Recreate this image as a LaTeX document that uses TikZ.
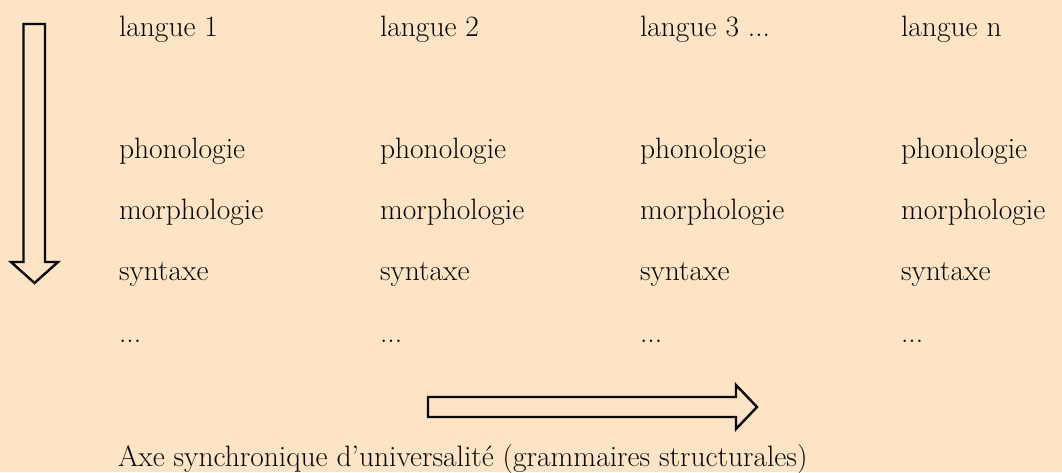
\documentclass[tikz,border=0pt]{standalone}
\definecolor{bg}{RGB}{252,228,196}
\definecolor{ink}{RGB}{8,8,8}
\begin{document}
\begin{tikzpicture}[x=1pt,y=-1pt,
  lbl/.style={anchor=base west,inner sep=0pt,outer sep=0pt,text=ink,font=\fontsize{29.5}{34}\selectfont},
  bigarrow/.style={draw=ink,line width=2.4pt,line join=miter,fill=none}]
\fill[bg] (0,0) rectangle (1062,472);
\useasboundingbox (0,0) rectangle (1062,472);
% down arrow
\draw[bigarrow] (23.5,24) -- (45,24) -- (45,262) -- (58,262) -- (34.5,283) -- (11,262) -- (23.5,262) -- cycle;
% right arrow
\draw[bigarrow] (428,397) -- (736,397) -- (736,385) -- (757,407) -- (736,429) -- (736,417) -- (428,417) -- cycle;
% header row
\node[lbl] (l1) at (119,36) {langue 1};
\node[lbl] (l2) at (380,36) {langue 2};
\node[lbl] (l3) at (640,36) {langue 3 ...};
\node[lbl] (l4) at (901,36) {langue n};
% columns
\foreach \c/\x in {1/119,2/380,3/640,4/901}{
  \node[lbl] (p\c) at (\x,158) {phonologie};
  \node[lbl] (m\c) at (\x,219) {morphologie};
  \node[lbl] (s\c) at (\x,280) {syntaxe};
  \node[lbl] (d\c) at (\x,342) {{...}};
}
\node[lbl] (axe) at (118,466) {Axe synchronique d’universalité (grammaires structurales)};
\end{tikzpicture}
\end{document}
